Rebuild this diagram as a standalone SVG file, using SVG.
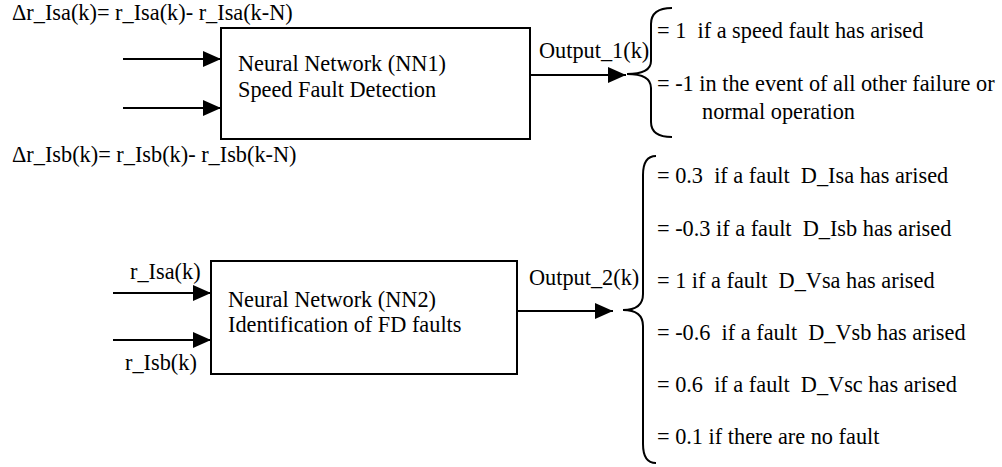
<svg xmlns="http://www.w3.org/2000/svg" width="1002" height="467" viewBox="0 0 1002 467">
<style>
text{font-family:"Liberation Serif","Times New Roman",serif;font-size:22.3px;fill:#000;white-space:pre}
.box{fill:#fff;stroke:#000;stroke-width:2}
.ln{fill:none;stroke:#000;stroke-width:2}
.br{fill:none;stroke:#000;stroke-width:2}
</style>
<defs>
<marker id="ah" markerUnits="userSpaceOnUse" markerWidth="18" markerHeight="16" refX="18" refY="8" orient="auto">
<path d="M0,0 L18,8 L0,16 Z" fill="#000"/>
</marker>
</defs>
<rect width="1002" height="467" fill="#fff"/>
<text x="12" y="20">Δr_Isa(k)= r_Isa(k)- r_Isa(k-N)</text>
<text x="12" y="162">Δr_Isb(k)= r_Isb(k)- r_Isb(k-N)</text>
<g id="nn1">
<rect class="box" x="221" y="28" width="309" height="111"/>
<text x="238" y="71">Neural Network (NN1)</text>
<text x="238" y="97">Speed Fault Detection</text>
</g>
<g id="nn2">
<rect class="box" x="211" y="261" width="306" height="113"/>
<text x="228" y="307">Neural Network (NN2)</text>
<text x="228" y="332">Identification of FD faults</text>
</g>
<g id="connectors">
<line class="ln" x1="123" y1="59" x2="221" y2="59" marker-end="url(#ah)"/>
<line class="ln" x1="123" y1="108" x2="221" y2="108" marker-end="url(#ah)"/>
<line class="ln" x1="530" y1="75" x2="626" y2="75" marker-end="url(#ah)"/>
<text x="539" y="58">Output_1(k)</text>
<line class="ln" x1="113" y1="293" x2="211" y2="293" marker-end="url(#ah)"/>
<line class="ln" x1="113" y1="340" x2="211" y2="340" marker-end="url(#ah)"/>
<text x="130" y="279">r_Isa(k)</text>
<text x="125" y="370">r_Isb(k)</text>
<line class="ln" x1="517" y1="311" x2="613" y2="311" marker-end="url(#ah)"/>
<text x="529" y="285">Output_2(k)</text>
</g>
<g id="out1">
<path class="br" d="M672,8 Q651,8 651,24 L651,61 Q651,74 627,74 Q651,74 651,88 L651,122 Q651,137 672,137"/>
<text x="657" y="38">= 1  if a speed fault has arised</text>
<text x="657" y="91">= -1 in the event of all other failure or</text>
<text x="702" y="119">normal operation</text>
</g>
<g id="out2">
<path class="br" d="M656,156 Q643,156 643,175 L643,294 Q643,310 623,310 Q643,310 643,326 L643,444 Q643,463 656,463"/>
<text x="657" y="183">= 0.3  if a fault  D_Isa has arised</text>
<text x="657" y="236">= -0.3 if a fault  D_Isb has arised</text>
<text x="657" y="288">= 1 if a fault  D_Vsa has arised</text>
<text x="657" y="340">= -0.6  if a fault  D_Vsb has arised</text>
<text x="657" y="392">= 0.6  if a fault  D_Vsc has arised</text>
<text x="657" y="444">= 0.1 if there are no fault</text>
</g>
</svg>
